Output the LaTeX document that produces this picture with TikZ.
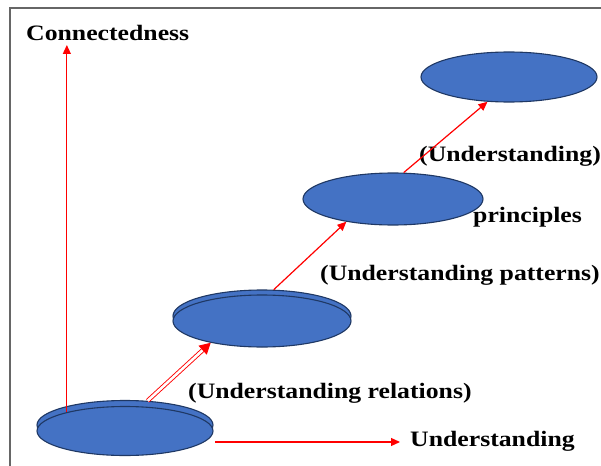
\documentclass[tikz,border=0pt]{standalone}
\usepackage{fontspec}
\setmainfont{Liberation Serif}
\newfontfamily\lblfont[FakeStretch=1.17]{Liberation Serif}
\usetikzlibrary{arrows.meta,shapes.geometric}
\definecolor{discblue}{HTML}{4472C4}
\definecolor{discline}{HTML}{1F3864}
\definecolor{arrred}{HTML}{FF0000}
\definecolor{framegray}{HTML}{666666}
\tikzset{
  disc/.style={ellipse, draw=discline, line width=1.1pt, fill=discblue, inner sep=0pt},
  lbl/.style={font=\lblfont\fontsize{22}{24}\selectfont\bfseries, inner sep=0pt, anchor=base west, text=black},
  conn/.style={draw=arrred, line width=1.2pt, -{Triangle[length=9pt,width=8pt]}},
  dconn/.style={draw=arrred, line width=0.9pt, double=white, double distance=2.6pt, -{Triangle[length=11pt,width=12pt]}},
}
\begin{document}
\begin{tikzpicture}[x=1pt,y=-1pt]
\useasboundingbox (0,0) rectangle (601,465);
\clip (0,0) rectangle (601,465);
% frame
\draw[framegray, line width=2pt] (10,466) -- (10,8) -- (602,8);
% discs
\node[disc, minimum width=176pt, minimum height=49pt] (b1b) at (125,425) {};
\node[disc, minimum width=176pt, minimum height=49pt] (b1f) at (125,431) {};
\node[disc, minimum width=178pt, minimum height=52pt] (b2b) at (262,316) {};
\node[disc, minimum width=178pt, minimum height=52pt] (b2f) at (262,321) {};
\node[disc, minimum width=180pt, minimum height=52pt] (d3) at (393,199) {};
\node[disc, minimum width=176pt, minimum height=50pt] (d4) at (509,77) {};
% labels
\node[lbl] (conn) at (26,41) {Connectedness};
\node[lbl] (und) at (410,446) {Understanding};
\node[lbl] (rel) at (188,398) {(Understanding relations)};
\node[lbl] (pat) at (320,280) {(Understanding patterns)};
\node[lbl] (pri) at (473,222) {principles};
\node[lbl] (upr) at (419,161) {(Understanding)};
% free ends
\coordinate (ytop) at (67,45);
\coordinate (xs) at (215,442);
\coordinate (xe) at (400,442);
% connectors
\draw[conn] (b1f.162.4) -- (b1f.162.4 |- ytop);
\draw[conn] (xs) -- (xe);
\draw[dconn] (b1b.47.1) -- (b2f.203.3);
\draw[conn] (b2b.66.9) -- (d3.206);
\draw[conn] (d3.68.8) -- (d4.229.2);
\end{tikzpicture}
\end{document}
